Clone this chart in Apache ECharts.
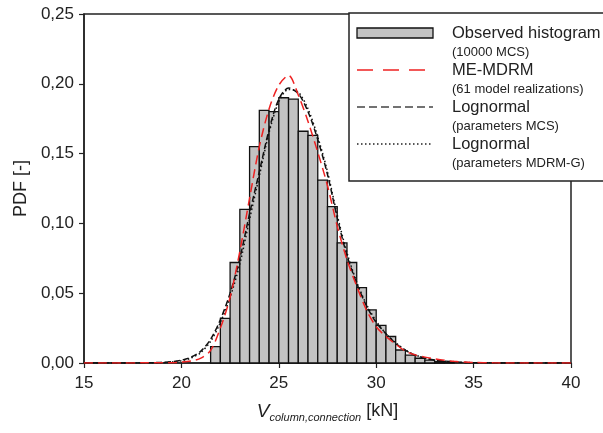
<!DOCTYPE html>
<html>
<head>
<meta charset="utf-8">
<script src="https://cdn.jsdelivr.net/npm/echarts@6/dist/echarts.min.js"></script>
<style>html,body{margin:0;padding:0;background:#fff}#c{width:603px;height:433px}</style>
</head>
<body>
<div id="c"></div>
<script>
// Histogram (bin starts, width 0.5 kN)
const binStarts = [21.5,22,22.5,23,23.5,24,24.5,25,25.5,26,26.5,27,27.5,28,28.5,29,29.5,30,30.5,31,31.5,32,32.5,33,33.5];
const binWidth = 0.5;
const histValues = [0.0117,0.032,0.072,0.110,0.155,0.181,0.180,0.190,0.189,0.166,0.163,0.131,0.112,0.086,0.072,0.054,0.038,0.027,0.019,0.0093,0.0057,0.0034,0.002,0.001,0.0005];

// Curves
const curveX = [15,16,17,18,19,19.5,20,20.5,21,21.5,22,22.5,23,23.5,24,24.5,25,25.5,26,26.5,27,27.5,28,28.5,29,29.5,30,30.5,31,31.5,32,32.5,33,33.5,34,35,36,38,40];
const meMdrm = [0,0,0,0.0001,0.0001,0.0002,0.0006,0.0015,0.0035,0.009,0.025,0.047,0.080,0.118,0.155,0.182,0.199,0.206,0.192,0.173,0.151,0.127,0.098,0.074,0.055,0.038,0.026,0.019,0.0135,0.0085,0.0058,0.0042,0.003,0.002,0.0012,0.0004,0.0001,0,0];
const lognormMCS = [0,0,0,0.0001,0.0004,0.0009,0.002,0.0042,0.0085,0.017,0.031,0.050,0.075,0.107,0.137,0.167,0.189,0.197,0.193,0.180,0.160,0.135,0.104,0.077,0.057,0.041,0.029,0.021,0.014,0.009,0.0056,0.0035,0.0021,0.0013,0.0008,0.0002,0.0001,0,0];
const lognormMDRMG = [0,0,0,0.0001,0.0003,0.0007,0.0016,0.0036,0.0075,0.0155,0.029,0.047,0.071,0.103,0.134,0.165,0.187,0.196,0.194,0.182,0.162,0.137,0.106,0.079,0.058,0.042,0.030,0.021,0.0145,0.0093,0.0058,0.0036,0.0022,0.0013,0.0008,0.0002,0.0001,0,0];

const xTicks = [15,20,25,30,35,40];
const yTicks = [0,0.05,0.10,0.15,0.20,0.25];

const FONT = '"Liberation Sans", Arial, sans-serif';
const histData = binStarts.map((s,i)=>[s, s+binWidth, histValues[i]]);
const zip = arr => curveX.map((x,i)=>[x, arr[i]]);

const chart = echarts.init(document.getElementById('c'), null, {renderer:'canvas'});
chart.setOption({
  animation:false,
  backgroundColor:'#fff',
  textStyle:{fontFamily:FONT},
  grid:{left:84,right:32,top:14,bottom:70,show:true,borderColor:'#222',borderWidth:1.5,backgroundColor:'transparent'},
  xAxis:{
    type:'value',min:xTicks[0],max:xTicks[xTicks.length-1],interval:5,
    axisLine:{lineStyle:{color:'#222',width:1.5}},
    axisTick:{show:true,length:5,lineStyle:{color:'#222',width:1.2}},
    splitLine:{show:false},
    axisLabel:{color:'#222',fontSize:17,margin:12,fontFamily:FONT},
    name:'{v|V}{s|column,connection}{n| [kN]}',
    nameLocation:'middle',nameGap:37,
    nameTextStyle:{color:'#222',fontFamily:FONT,
      rich:{
        v:{fontSize:19,fontStyle:'italic',color:'#222',fontFamily:FONT},
        s:{fontSize:11,fontStyle:'italic',color:'#222',fontFamily:FONT,padding:[12,0,0,0]},
        n:{fontSize:18,color:'#222',fontFamily:FONT}
      }}
  },
  yAxis:{
    type:'value',min:0,max:0.25,interval:0.05,
    axisLine:{show:true,lineStyle:{color:'#222',width:1.5}},
    axisTick:{show:true,length:5,lineStyle:{color:'#222',width:1.2}},
    splitLine:{show:false},
    axisLabel:{color:'#222',fontSize:17,margin:10,fontFamily:FONT,formatter:v=>v.toFixed(2).replace('.',',')},
    name:'PDF [-]',nameLocation:'middle',nameGap:53,
    nameTextStyle:{color:'#222',fontSize:18,fontFamily:FONT}
  },
  series:[
    {type:'custom',name:'Observed histogram',data:histData,encode:{x:[0,1],y:2},z:2,
     renderItem:(params,api)=>{
       const p0=api.coord([api.value(0),api.value(2)]);
       const p1=api.coord([api.value(1),0]);
       return {type:'rect',shape:{x:p0[0],y:p0[1],width:p1[0]-p0[0],height:p1[1]-p0[1]},
         style:{fill:'#c3c3c3',stroke:'#111',lineWidth:1.3}};
     }},
    {type:'line',name:'ME-MDRM',data:zip(meMdrm),smooth:0.3,showSymbol:false,z:5,
     lineStyle:{color:'#ee2222',width:1.5,type:[9,5]}},
    {type:'line',name:'Lognormal MCS',data:zip(lognormMCS),smooth:0.3,showSymbol:false,z:4,
     lineStyle:{color:'#111',width:1.5,type:[6,3]}},
    {type:'line',name:'Lognormal MDRM-G',data:zip(lognormMDRMG),smooth:0.3,showSymbol:false,z:4,
     lineStyle:{color:'#111',width:1.5,type:[1.5,2.5]}}
  ],
  graphic:[
    {type:'group',z:100,children:[
      {type:'rect',shape:{x:349,y:13,width:270,height:168},style:{fill:'#fff',stroke:'#222',lineWidth:1.5}},
      {type:'rect',shape:{x:357,y:28,width:76,height:10},style:{fill:'#c3c3c3',stroke:'#111',lineWidth:1.3}},
      {type:'line',shape:{x1:357,y1:70,x2:427,y2:70},style:{stroke:'#ee2222',lineWidth:1.5,lineDash:[16,10]}},
      {type:'line',shape:{x1:357,y1:107,x2:433,y2:107},style:{stroke:'#444',lineWidth:1.5,lineDash:[8,4]}},
      {type:'line',shape:{x1:357,y1:144,x2:433,y2:144},style:{stroke:'#222',lineWidth:1.5,lineDash:[1.5,2.5]}},
      {type:'text',x:452,y:33,style:{text:'Observed histogram',font:'16.5px '+FONT,fill:'#222',verticalAlign:'middle'}},
      {type:'text',x:452,y:52,style:{text:'(10000 MCS)',font:'13px '+FONT,fill:'#222',verticalAlign:'middle'}},
      {type:'text',x:452,y:70,style:{text:'ME-MDRM',font:'16.5px '+FONT,fill:'#222',verticalAlign:'middle'}},
      {type:'text',x:452,y:89,style:{text:'(61 model realizations)',font:'13px '+FONT,fill:'#222',verticalAlign:'middle'}},
      {type:'text',x:452,y:107,style:{text:'Lognormal',font:'16.5px '+FONT,fill:'#222',verticalAlign:'middle'}},
      {type:'text',x:452,y:126,style:{text:'(parameters MCS)',font:'13px '+FONT,fill:'#222',verticalAlign:'middle'}},
      {type:'text',x:452,y:144,style:{text:'Lognormal',font:'16.5px '+FONT,fill:'#222',verticalAlign:'middle'}},
      {type:'text',x:452,y:163,style:{text:'(parameters MDRM-G)',font:'13px '+FONT,fill:'#222',verticalAlign:'middle'}}
    ]}
  ]
});
</script>
</body>
</html>
